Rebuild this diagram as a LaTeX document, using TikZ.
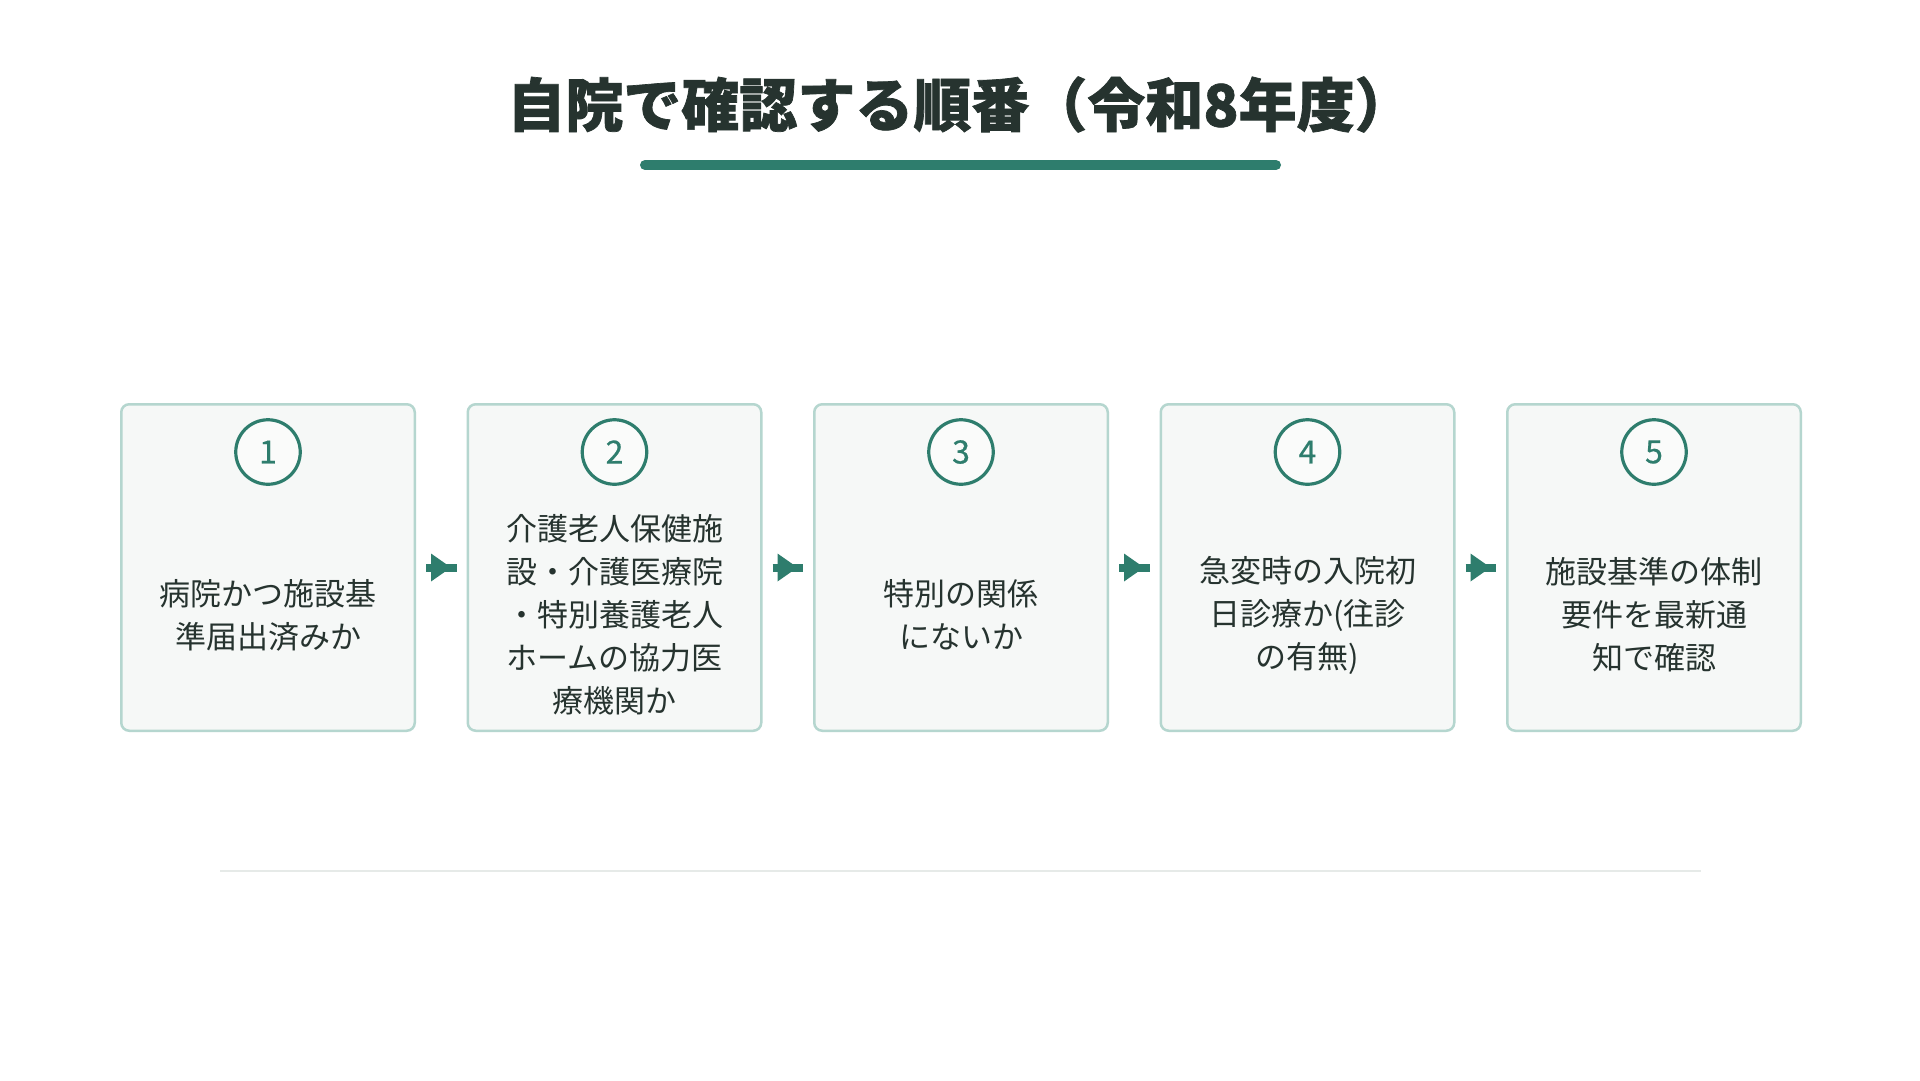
\documentclass[tikz,border=0pt]{standalone}
\usepackage{fontspec}
\newfontfamily\cjk{Noto Sans CJK JP}
\newfontfamily\cjknum{Noto Sans CJK JP}[FakeBold=0.6]
\newfontfamily\cjktitle{Noto Sans CJK JP}[BoldFeatures={FakeBold=1.2}]
\definecolor{tealmain}{HTML}{2E7D6D}
\definecolor{inkdark}{HTML}{26332F}
\definecolor{boxfill}{HTML}{F6F8F7}
\definecolor{boxline}{HTML}{B5D6CF}
\definecolor{sepline}{HTML}{E6EAE8}
\tikzset{
  stepbox/.style={draw=boxline, fill=boxfill, line width=2.5pt, rounded corners=8pt,
    minimum width=293.5pt, minimum height=326.5pt, inner sep=0pt},
  numcirc/.style={circle, draw=tealmain, line width=3.2pt, minimum size=64.5pt, inner sep=0pt,
    fill=boxfill!60!white, text=tealmain, font=\cjknum\fontsize{32}{32}\selectfont},
  steptext/.style={align=center, text=inkdark, inner sep=0pt,
    font=\cjk\fontsize{31}{43}\selectfont},
  flowline/.style={draw=tealmain, line width=8pt},
  flowhead/.style={fill=tealmain},
  titletext/.style={text=inkdark, inner sep=0pt, font=\cjktitle\bfseries\fontsize{58}{58}\selectfont}
}
\begin{document}
\begin{tikzpicture}[x=1pt,y=-1pt]
\useasboundingbox (0,0) rectangle (1920,1080);
\fill[white] (0,0) rectangle (1920,1080);

% title
\node[titletext] (title) at (960,104.5) {自院で確認する順番（令和8年度）};
\coordinate (ulA) at (645,165);
\coordinate (ulB) at (1276,165);
\draw[tealmain, line width=10pt, line cap=round] (ulA) -- (ulB);

% boxes
\node[stepbox] (b1) at (268,567.5) {};
\node[stepbox] (b2) at (614.5,567.5) {};
\node[stepbox] (b3) at (961,567.5) {};
\node[stepbox] (b4) at (1307.5,567.5) {};
\node[stepbox] (b5) at (1654,567.5) {};

% number circles
\node[numcirc] (n1) at (268,452) {1};
\node[numcirc] (n2) at (614.5,452) {2};
\node[numcirc] (n3) at (961,452) {3};
\node[numcirc] (n4) at (1307.5,452) {4};
\node[numcirc] (n5) at (1654,452) {5};

% texts
\node[steptext] (t1) at (268,615) {病院かつ施設基\\準届出済みか};
\node[steptext] (t2) at (614.5,615) {介護老人保健施\\設・介護医療院\\・特別養護老人\\ホームの協力医\\療機関か};
\node[steptext] (t3) at (961,615) {特別の関係\\にないか};
\node[steptext] (t4) at (1307.5,615) {急変時の入院初\\日診療か(往診\\の有無)};
\node[steptext] (t5) at (1654,615) {施設基準の体制\\要件を最新通\\知で確認};

% arrows
\foreach \a/\b in {b1/b2, b2/b3, b3/b4, b4/b5}{
  \draw[flowline] ([xshift=10pt]\a.east) -- ([xshift=-10pt]\b.west);
  \fill[flowhead] ([xshift=15pt,yshift=14pt]\a.east) -- ([xshift=35pt]\a.east)
     -- ([xshift=15pt,yshift=-14pt]\a.east) -- cycle;
}

% separator
\coordinate (sepA) at (220,871);
\coordinate (sepB) at (1701,871);
\draw[sepline, line width=2pt] (sepA) -- (sepB);
\end{tikzpicture}
\end{document}
